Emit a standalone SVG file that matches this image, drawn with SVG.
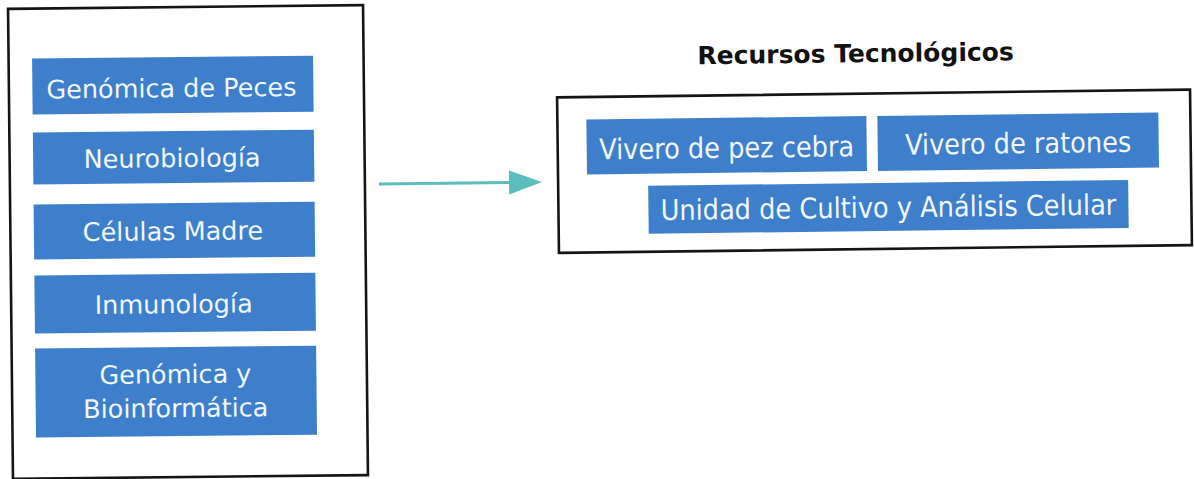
<svg xmlns="http://www.w3.org/2000/svg" width="1194" height="479" viewBox="0 0 1194 479">
<style>
.frame{fill:#ffffff;stroke:#141414;stroke-width:2.6}
.blue{fill:#3d7fca}
.lt{font-family:"DejaVu Sans","Liberation Sans",sans-serif;font-size:25.5px;fill:#f3f6fb;text-anchor:middle}
.rt{font-family:"DejaVu Sans Condensed","DejaVu Sans","Liberation Sans",sans-serif;font-size:28.5px;fill:#f3f6fb;text-anchor:middle}
.title{font-family:"DejaVu Sans","Liberation Sans",sans-serif;font-weight:bold;font-size:25px;fill:#111111;text-anchor:middle}
</style>
<rect width="1194" height="479" fill="#ffffff"/>
<g id="grupos" transform="rotate(-0.6 188 242)">
  <rect class="frame" x="10.5" y="7" width="355" height="470"/>
  <g id="genomica-peces">
    <rect class="blue" x="34" y="57" width="281" height="56"/>
    <text class="lt" x="173" y="97">Genómica de Peces</text>
  </g>
  <g id="neurobiologia">
    <rect class="blue" x="34" y="131" width="281" height="52"/>
    <text class="lt" x="173" y="167">Neurobiología</text>
  </g>
  <g id="celulas-madre">
    <rect class="blue" x="34" y="203" width="281" height="55"/>
    <text class="lt" x="173" y="240">Células Madre</text>
  </g>
  <g id="inmunologia">
    <rect class="blue" x="34" y="274" width="281" height="58"/>
    <text class="lt" x="173" y="313">Inmunología</text>
  </g>
  <g id="genomica-bioinformatica">
    <rect class="blue" x="34" y="347" width="281" height="89"/>
    <text class="lt" x="174" y="383">Genómica y</text>
    <text class="lt" x="174" y="417">Bioinformática</text>
  </g>
</g>
<g id="connectors" transform="rotate(-0.7 460 183)">
  <line x1="379" y1="183" x2="512" y2="183" stroke="#5bbdbd" stroke-width="3"/>
  <polygon points="509,171 542,183 509,195" fill="#5bbdbd"/>
</g>
<g id="recursos-titulo" transform="rotate(-0.7 875 171)">
  <text class="title" x="857" y="62">Recursos Tecnológicos</text>
</g>
<g id="recursos" transform="rotate(-0.7 875 171)">
  <rect class="frame" x="558" y="93.5" width="633" height="155.5"/>
  <g id="vivero-pez-cebra">
    <rect class="blue" x="587" y="116" width="280" height="55"/>
    <text class="rt" x="727" y="156">Vivero de pez cebra</text>
  </g>
  <g id="vivero-ratones">
    <rect class="blue" x="878" y="116" width="281" height="55"/>
    <text class="rt" x="1018.5" y="155">Vivero de ratones</text>
  </g>
  <g id="unidad-cultivo">
    <rect class="blue" x="648" y="183" width="480" height="48"/>
    <text class="rt" x="888" y="217.5">Unidad de Cultivo y Análisis Celular</text>
  </g>
</g>
</svg>
